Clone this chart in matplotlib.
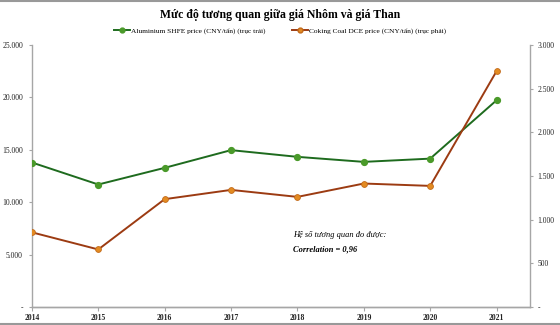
import matplotlib
matplotlib.use("Agg")
import matplotlib.pyplot as plt
from matplotlib.lines import Line2D
from matplotlib.ticker import FuncFormatter

years = ["2014", "2015", "2016", "2017", "2018", "2019", "2020", "2021"]
aluminium = [13790, 11690, 13280, 14970, 14330, 13850, 14160, 19730]
coking_coal = [855, 659, 1235, 1341, 1261, 1414, 1387, 2701]
left_ticks = [0, 5000, 10000, 15000, 20000, 25000]
right_ticks = [0, 500, 1000, 1500, 2000, 2500, 3000]

plt.rcParams.update({"font.family": ["Liberation Serif", "DejaVu Serif"]})

GREEN_LINE, GREEN_DOT = "#1e6b1e", "#4a9a2a"
BROWN_LINE, ORANGE_DOT = "#9c3b12", "#e38b22"
AXC = "#a6a6a6"


def vn_fmt(v, _):
    if v == 0:
        return "-"
    return f"{int(v):,}".replace(",", ".")


fig = plt.figure(figsize=(5.6, 3.25), dpi=100)
ax = fig.add_axes([0.057, 0.0554, 0.889, 0.806])
ax2 = ax.twinx()

x = list(range(len(years)))
ax.plot(x, aluminium, color=GREEN_LINE, lw=1.4, marker="o", ms=4.2,
        mfc=GREEN_DOT, mec=GREEN_DOT, zorder=3)
ax2.plot(x, coking_coal, color=BROWN_LINE, lw=1.4, marker="o", ms=4.2,
         mfc=ORANGE_DOT, mec="#c26a1a", mew=0.6, zorder=3)

ax.set_xlim(0, 7.5)
ax.set_ylim(0, 25000)
ax2.set_ylim(0, 3000)
ax.set_xticks(x)
ax.set_xticklabels(years, fontsize=5.3, fontweight="bold")
ax.set_yticks(left_ticks)
ax2.set_yticks(right_ticks)
ax.yaxis.set_major_formatter(FuncFormatter(vn_fmt))
ax2.yaxis.set_major_formatter(FuncFormatter(vn_fmt))

for a in (ax, ax2):
    a.spines["top"].set_visible(False)
    for s in ("left", "right", "bottom"):
        a.spines[s].set_color(AXC)
        a.spines[s].set_linewidth(1.0)
    a.tick_params(axis="both", labelcolor="#222222", color=AXC, labelsize=5.5,
                  length=2.5, width=0.8)
ax.tick_params(axis="y", pad=4)
ax2.tick_params(axis="y", pad=3)
ax.tick_params(axis="x", pad=2, length=3)
ax2.spines["left"].set_visible(False)
ax.spines["right"].set_visible(False)

fig.text(0.5, 0.955, "Mức độ tương quan giữa giá Nhôm và giá Than",
         ha="center", va="center", fontsize=8.5, fontweight="bold")

handles = [
    Line2D([], [], color=GREEN_LINE, lw=1.4, marker="o", ms=3.5,
           mfc=GREEN_DOT, mec=GREEN_DOT),
    Line2D([], [], color=BROWN_LINE, lw=1.4, marker="o", ms=3.5,
           mfc=ORANGE_DOT, mec="#c26a1a"),
]
fig.legend(handles, ["Aluminium SHFE price (CNY/tấn) (trục trái)",
                     "Coking Coal DCE price (CNY/tấn) (trục phải)"],
           loc="center", bbox_to_anchor=(0.5, 0.906), ncol=2, frameon=False,
           fontsize=5.3, handlelength=2.2, handletextpad=0.2, columnspacing=3.5)

fig.text(0.524, 0.277, "Hệ số tương quan đo được:", fontsize=6,
         style="italic", va="center")
fig.text(0.524, 0.234, "Correlation = 0,96", fontsize=6,
         style="italic", fontweight="bold", va="center")

fig.add_artist(Line2D([0, 1], [0.998, 0.998], color="#999999", lw=1.5))
fig.add_artist(Line2D([0, 1], [0.002, 0.002], color="#999999", lw=1.5))

fig.savefig("out.png", dpi=100)
